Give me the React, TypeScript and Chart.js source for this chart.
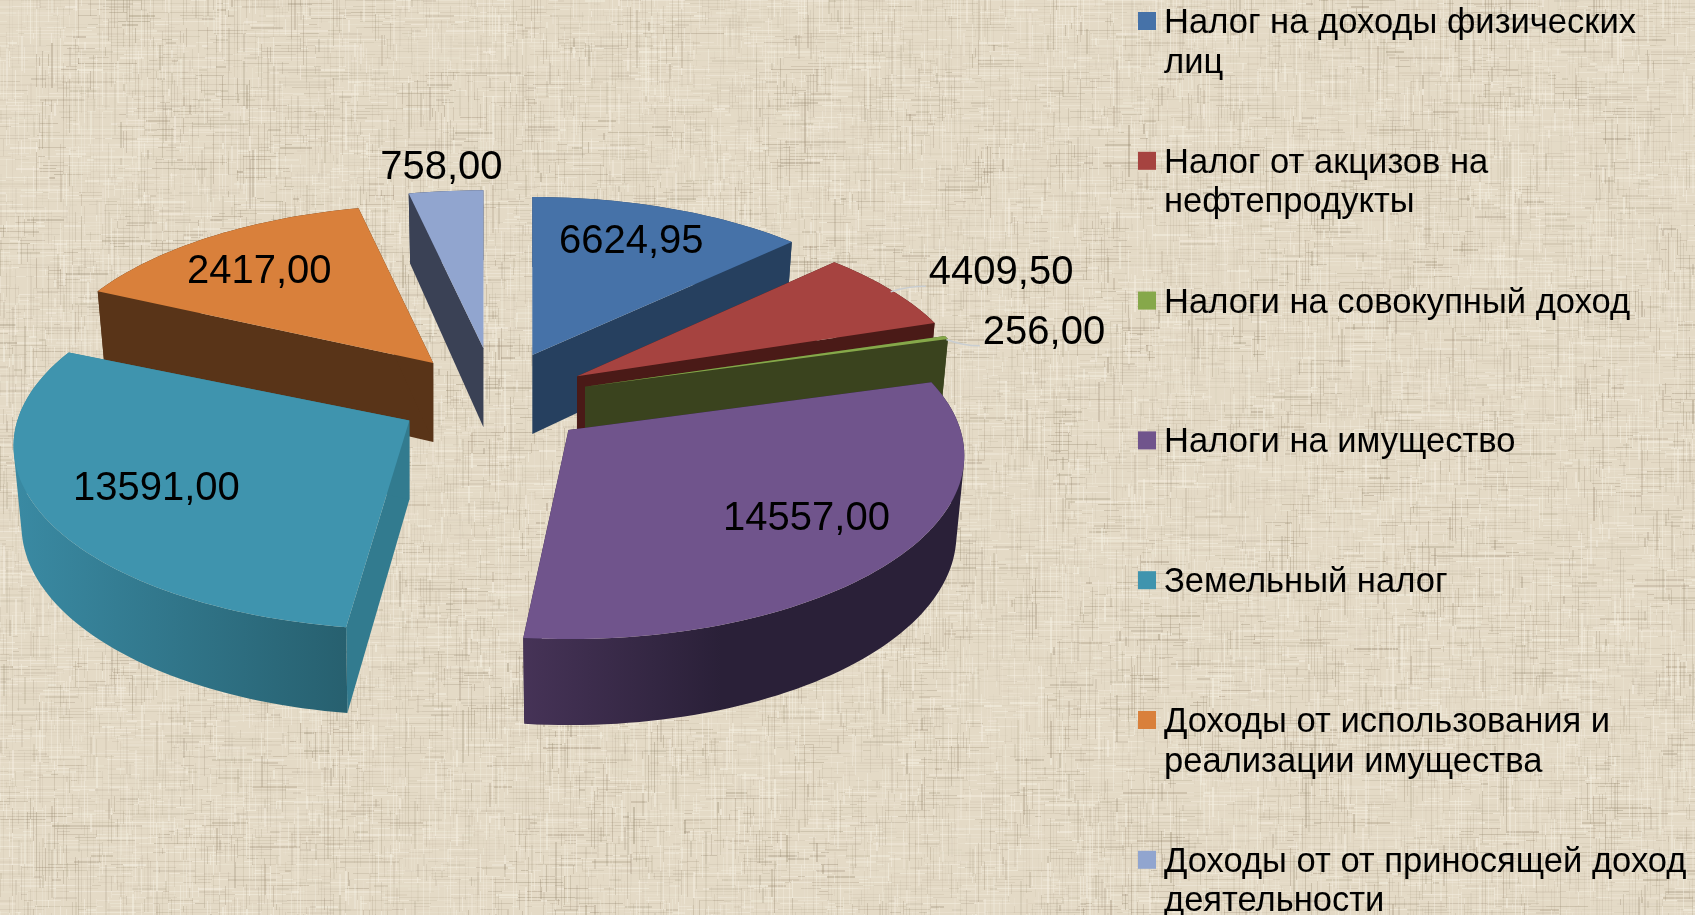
import React, { useEffect, useRef } from "react";
import { Chart, registerables } from "chart.js";

Chart.register(...registerables);

const categories = [
  "Налог на доходы физических лиц",
  "Налог от акцизов на нефтепродукты",
  "Налоги на совокупный доход",
  "Налоги на имущество",
  "Земельный налог",
  "Доходы от использования и реализации имущества",
  "Доходы от от приносящей доход деятельности",
];
const values = [6624.95, 4409.5, 256, 14557, 13591, 2417, 758];
const valueLabels = ["6624,95", "4409,50", "256,00", "14557,00", "13591,00", "2417,00", "758,00"];
const topColors = ["#4672a8", "#a64340", "#86a84a", "#70548c", "#3f94ae", "#d9803b", "#91a5cf"];
const cutColors = ["#26405f", "#4a1a17", "#3a431e", "#2c2139", "#327b8f", "#593418", "#3a4155"];
const rimStart = ["#26405f", "#4a1a17", "#3a431e", "#463357", "#3a8aa3", "#593418", "#3a4155"];
const rimEnd = ["#26405f", "#4a1a17", "#3a431e", "#2a2038", "#27606f", "#593418", "#3a4155"];
const labelShift = [[99, -113], [424, -103], [459, -54], [238, 89], [-253, 69], [-174, -91], [-42, -180]];
const tipNudge = [[0, 3], [0, 4], [-2, 3], [0, 0], [0, -2], [0, 4], [0, 0]];
const leaderSlices = [1, 2];
const paintOrder = [0, 6, 5, 1, 2, 4, 3];

// View of the tilted pie: each library slice span is shown over a displayed angle span.
const viewSpanFrom = [0, 55.97, 93.22, 95.38, 218.36, 333.18, 353.6, 360];
const viewSpanStart = [0, 46, 72.9, 74, 188, 295, 347.5];
const viewSpanEnd = [46.5, 72, 74, 185.7, 293.5, 347.5, 360];
const view = { cx: 494, cy: 398, rx: 392, ry: 180, persp: 0.139, explodeX: 97, explodeY: 50, depth: 78, depthTilt: 8, baseInset: 0.98 };
const legendLayout = { x: 1138, textX: 1164, firstY: 21, pitch: 139.8, box: 18, wrap: 530, font: 34.55, lineH: 39.5 };

const FONT = '"Liberation Sans", Arial, sans-serif';
const rad = (d: number) => (d * Math.PI) / 180;

function rimPoint(tip: number[], phiDeg: number) {
  const s = Math.sin(rad(phiDeg));
  const c = Math.cos(rad(phiDeg));
  const w = 1 / (1 + view.persp * c);
  return [tip[0] + view.rx * s * w, tip[1] - view.ry * c * w, view.depth - view.depthTilt * c];
}

let textureCache: HTMLCanvasElement | null = null;
function buildTexture(W: number, H: number) {
  const c = document.createElement("canvas");
  c.width = W;
  c.height = H;
  const ctx = c.getContext("2d") as CanvasRenderingContext2D;
  ctx.fillStyle = "#e4dac6";
  ctx.fillRect(0, 0, W, H);
  let seed = 20231;
  const rnd = () => {
    seed = (seed * 16807) % 2147483647;
    return seed / 2147483647;
  };
  const cell = 36;
  const cols = Math.ceil(W / cell) + 1;
  const rows = Math.ceil(H / cell) + 1;
  const patch: number[] = [];
  for (let i = 0; i < cols * rows; i++) patch.push(0.2 + rnd() * 0.8);
  const thread = (x: number, y: number, len: number, horizontal: boolean) => {
    const p = patch[Math.floor(y / cell) * cols + Math.floor(x / cell)];
    const light = rnd() < 0.42;
    const a = light ? 0.12 + rnd() * 0.4 : (0.08 + rnd() * 0.26) * p;
    ctx.fillStyle = light ? `rgba(246,241,228,${a})` : `rgba(140,125,100,${a})`;
    const t = rnd() < 0.2 ? 2 : 1;
    if (horizontal) ctx.fillRect(x, y, len, t);
    else ctx.fillRect(x, y, t, len);
  };
  for (let y = 0; y < H; y += 3) {
    let x = 0;
    while (x < W) {
      const len = 6 + Math.floor(rnd() * rnd() * 60);
      if (rnd() < 0.75) thread(x, y, len, true);
      x += len;
    }
  }
  for (let x = 0; x < W; x += 3) {
    let y = 0;
    while (y < H) {
      const len = 6 + Math.floor(rnd() * rnd() * 60);
      if (rnd() < 0.65) thread(x, y, len, false);
      y += len;
    }
  }
  const out = document.createElement("canvas");
  out.width = W;
  out.height = H;
  const octx = out.getContext("2d") as CanvasRenderingContext2D;
  octx.filter = "blur(0.7px)";
  octx.drawImage(c, 0, 0);
  return out;
}

function wrapText(ctx: CanvasRenderingContext2D, text: string, maxW: number) {
  const lines: string[] = [];
  let cur = "";
  for (const word of text.split(" ")) {
    const next = cur ? cur + " " + word : word;
    if (ctx.measureText(next).width > maxW && cur) {
      lines.push(cur);
      cur = word;
    } else cur = next;
  }
  if (cur) lines.push(cur);
  return lines;
}

const pie3d = {
  id: "pie3d",
  beforeDraw(chart: any) {
    if (!textureCache) textureCache = buildTexture(chart.width, chart.height);
    chart.ctx.drawImage(textureCache, 0, 0);
  },
  beforeDatasetsDraw(chart: any) {
    const ctx: CanvasRenderingContext2D = chart.ctx;
    const arcs = chart.getDatasetMeta(0).data;
    const geom = arcs.map((el: any, idx: number) => {
      const p = el.getProps(["startAngle", "endAngle"], true);
      const d0 = ((p.startAngle + Math.PI / 2) * 180) / Math.PI;
      const d1 = ((p.endAngle + Math.PI / 2) * 180) / Math.PI;
      const dm = (d0 + d1) / 2;
      let k = viewSpanFrom.findIndex((f, j) => j > 0 && dm <= f) - 1;
      if (k < 0) k = idx;
      const sf = viewSpanFrom[k];
      const ef = viewSpanFrom[k + 1];
      const map = (d: number) => viewSpanStart[k] + ((d - sf) / (ef - sf)) * (viewSpanEnd[k] - viewSpanStart[k]);
      const a0 = map(d0);
      const a1 = map(d1);
      const am = map(dm);
      const tip = [
        view.cx + view.explodeX * Math.sin(rad(am)) + tipNudge[idx][0],
        view.cy - view.explodeY * Math.cos(rad(am)) + tipNudge[idx][1],
      ];
      const n = Math.max(2, Math.ceil((a1 - a0) / 1.5));
      const rim: number[][] = [];
      for (let j = 0; j <= n; j++) rim.push(rimPoint(tip, a0 + ((a1 - a0) * j) / n));
      return { a0, a1, am, tip, rim };
    });

    const poly = (pts: number[][], fill: any) => {
      ctx.beginPath();
      pts.forEach((q, k) => (k ? ctx.lineTo(q[0], q[1]) : ctx.moveTo(q[0], q[1])));
      ctx.closePath();
      ctx.fillStyle = fill;
      ctx.fill();
    };

    for (const i of paintOrder) {
      const g = geom[i];
      const tipDepth = view.depth + 1;
      const baseX = (r: number[]) => g.tip[0] + (r[0] - g.tip[0]) * view.baseInset;
      const cut = (r: number[]) => [
        g.tip,
        [r[0], r[1]],
        [baseX(r), r[1] + r[2]],
        [g.tip[0], g.tip[1] + tipDepth],
      ];
      poly(cut(g.rim[0]), cutColors[i]);
      poly(cut(g.rim[g.rim.length - 1]), cutColors[i]);
      const xs = g.rim.map((r: number[]) => r[0]);
      const grad = ctx.createLinearGradient(Math.min(...xs), 0, Math.max(...xs), 0);
      if (i === 3) {
        grad.addColorStop(0, rimStart[i]);
        grad.addColorStop(0.45, rimEnd[i]);
        grad.addColorStop(1, rimEnd[i]);
      } else {
        grad.addColorStop(0, rimStart[i]);
        grad.addColorStop(1, rimEnd[i]);
      }
      // side wall: one consistently wound quad per rim step, so folds do not cancel
      ctx.beginPath();
      for (let k = 0; k < g.rim.length - 1; k++) {
        const a = g.rim[k];
        const b = g.rim[k + 1];
        const q = [
          [a[0], a[1]],
          [b[0], b[1]],
          [baseX(b), b[1] + b[2]],
          [baseX(a), a[1] + a[2]],
        ];
        let area = 0;
        q.forEach((u, m) => {
          const v = q[(m + 1) % 4];
          area += u[0] * v[1] - v[0] * u[1];
        });
        if (area < 0) q.reverse();
        q.forEach((u, m) => (m ? ctx.lineTo(u[0], u[1]) : ctx.moveTo(u[0], u[1])));
        ctx.closePath();
      }
      ctx.fillStyle = grad;
      ctx.fill();
      poly([g.tip, ...g.rim], topColors[i]);
    }

    // value labels and their leader lines
    ctx.font = `40px ${FONT}`;
    ctx.textAlign = "center";
    ctx.textBaseline = "middle";
    geom.forEach((g: any, i: number) => {
      const lx = g.tip[0] + labelShift[i][0];
      const ly = g.tip[1] + labelShift[i][1];
      if (leaderSlices.includes(i)) {
        const r = rimPoint(g.tip, g.am);
        const ex = lx - ctx.measureText(valueLabels[i]).width / 2 - 3;
        ctx.beginPath();
        ctx.moveTo(r[0], r[1] + 2);
        ctx.quadraticCurveTo((r[0] + ex) / 2, ly + 13, ex, ly + 13);
        ctx.strokeStyle = "#c9ced2";
        ctx.lineWidth = 1.5;
        ctx.stroke();
      }
      ctx.fillStyle = "#000";
      ctx.fillText(valueLabels[i], lx, ly);
    });

    // legend
    const L = legendLayout;
    ctx.textAlign = "left";
    ctx.textBaseline = "alphabetic";
    ctx.font = `${L.font}px ${FONT}`;
    categories.forEach((name, i) => {
      const yc = L.firstY + L.pitch * i;
      ctx.fillStyle = topColors[i];
      ctx.fillRect(L.x, yc - L.box / 2, L.box, L.box);
      ctx.fillStyle = "#000";
      wrapText(ctx, name, L.wrap).forEach((line, k) => {
        ctx.fillText(line, L.textX, yc + 12 + k * L.lineH);
      });
    });
    return false;
  },
};

export default function App() {
  const ref = useRef<HTMLCanvasElement>(null);
  useEffect(() => {
    const chart = new Chart(ref.current as HTMLCanvasElement, {
      type: "pie",
      data: {
        labels: categories,
        datasets: [{ data: values, backgroundColor: topColors, offset: 40, borderWidth: 0 }],
      },
      options: {
        responsive: false,
        animation: false,
        devicePixelRatio: 1,
        plugins: { legend: { display: false }, tooltip: { enabled: false } },
      },
      plugins: [pie3d],
    } as any);
    return () => chart.destroy();
  }, []);
  return (
    <div style={{ position: "fixed", left: 0, top: 0, width: 1695, height: 915, overflow: "hidden" }}>
      <canvas ref={ref} width={1695} height={915} style={{ display: "block", width: 1695, height: 915 }} />
    </div>
  );
}
